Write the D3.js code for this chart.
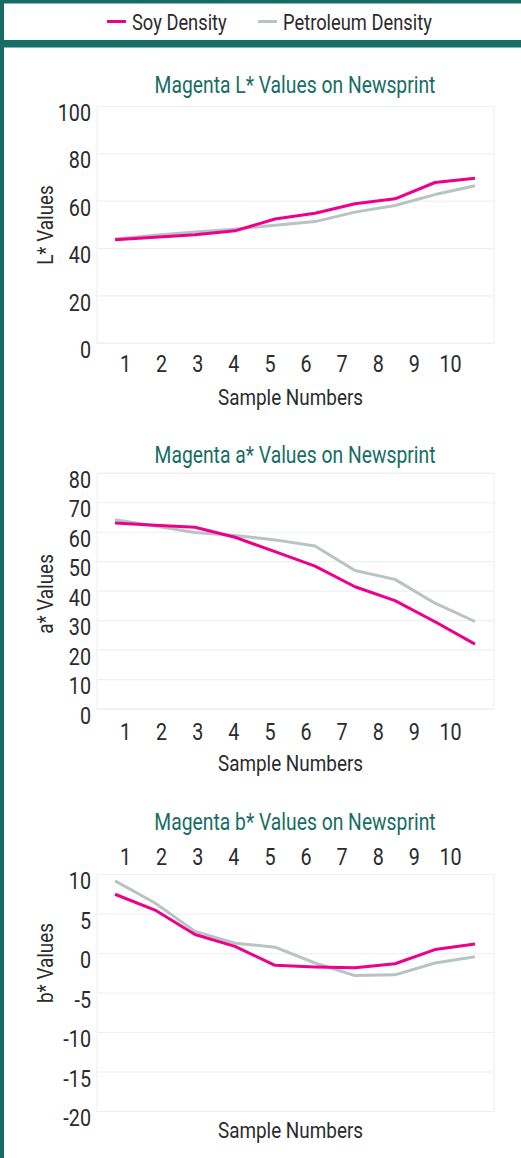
<!DOCTYPE html>
<html>
<head>
<meta charset="utf-8">
<script src="https://cdn.jsdelivr.net/npm/d3@7"></script>
<style>
  html, body { margin: 0; padding: 0; background: #fff; }
  svg { display: block; }
  text { font-family: Roboto, "Noto Sans", sans-serif; }
</style>
</head>
<body>
<svg id="chart" width="521" height="1158"></svg>
<script>
// Sample numbers shared by all three panels
const samples = [1, 2, 3, 4, 5, 6, 7, 8, 9, 10];

// Series names
const seriesNames = ["Soy Density", "Petroleum Density"];

// L* values
const lSoy = [43.7, 44.8, 45.8, 47.5, 52.5, 54.9, 58.9, 61.0, 67.9, 69.7];
const lPetro = [44.0, 45.6, 47.0, 48.2, 49.9, 51.4, 55.4, 58.2, 62.8, 66.5];

// a* values
const aSoy = [63.1, 62.4, 61.7, 58.3, 53.4, 48.5, 41.5, 36.8, 29.6, 22.0];
const aPetro = [64.2, 62.1, 59.9, 58.9, 57.4, 55.3, 47.0, 44.0, 35.9, 29.7];

// b* values
const bSoy = [7.5, 5.5, 2.4, 0.9, -1.5, -1.7, -1.8, -1.3, 0.5, 1.2];
const bPetro = [9.2, 6.4, 2.8, 1.3, 0.8, -1.2, -2.8, -2.7, -1.2, -0.4];

// Axis tick values
const lTicks = [0, 20, 40, 60, 80, 100];
const aTicks = [0, 10, 20, 30, 40, 50, 60, 70, 80];
const bTicks = [-20, -15, -10, -5, 0, 5, 10];

const titles = [
  "Magenta L* Values on Newsprint",
  "Magenta a* Values on Newsprint",
  "Magenta b* Values on Newsprint"
];
const yTitles = ["L* Values", "a* Values", "b* Values"];
const xTitle = "Sample Numbers";

const TEAL = "#176d63";
const SOY = "#ec008c";
const PETRO = "#b8c3c3";
const INK = "#2b2b2b";
const GRID = "#eef0f0";
const SX = 0.84; // horizontal squeeze for a condensed look

const svg = d3.select("#chart");
const W = 521, H = 1158;

// Text placed at (x, y), squeezed horizontally around its anchor
function label(parent, x, y, str, opts) {
  const o = Object.assign({ size: 22, fill: INK, anchor: "middle", rotate: 0 }, opts || {});
  const t = parent.append("text")
    .attr("transform", `translate(${x},${y}) rotate(${o.rotate}) scale(${SX},1)`)
    .attr("dy", "0.35em")
    .attr("text-anchor", o.anchor)
    .attr("font-size", o.size)
    .attr("fill", o.fill)
    .text(str);
  return t;
}

// Frame: top band, legend separator band, left strip
svg.append("rect").attr("x", 0).attr("y", 0).attr("width", W).attr("height", 3.5).attr("fill", TEAL);
svg.append("rect").attr("x", 0).attr("y", 40).attr("width", W).attr("height", 7.5).attr("fill", TEAL);
svg.append("rect").attr("x", 0).attr("y", 0).attr("width", 4).attr("height", H).attr("fill", TEAL);

// Legend
const legend = svg.append("g").attr("class", "legend");
const legendItems = [
  { name: seriesNames[0], color: SOY, x: 107 },
  { name: seriesNames[1], color: PETRO, x: 258 }
];
legendItems.forEach(it => {
  legend.append("line")
    .attr("x1", it.x).attr("x2", it.x + 19)
    .attr("y1", 21.5).attr("y2", 21.5)
    .attr("stroke", it.color).attr("stroke-width", 3);
  label(legend, it.x + 25, 22, it.name, { size: 21.8, anchor: "start" });
});

// Shared horizontal layout
const plotLeft = 97, plotRight = 494;
const x = d3.scaleLinear().domain([1, 10]).range([115, 475]);
const xLabel = d3.scalePoint().domain(samples).range([125, 450]);

const panels = [
  { title: titles[0], yTitle: yTitles[0], soy: lSoy, petro: lPetro, ticks: lTicks,
    domain: [0, 100], top: 106.5, bottom: 343.3, titleY: 85, xLabelY: 364, xTitleY: 397,
    yTitleY: 225, xLabelsOnTop: false },
  { title: titles[1], yTitle: yTitles[1], soy: aSoy, petro: aPetro, ticks: aTicks,
    domain: [0, 80], top: 473.3, bottom: 709, titleY: 455, xLabelY: 731.5, xTitleY: 763.5,
    yTitleY: 594, xLabelsOnTop: false },
  { title: titles[2], yTitle: yTitles[2], soy: bSoy, petro: bPetro, ticks: bTicks,
    domain: [-20, 10], top: 874.5, bottom: 1111.5, titleY: 821.5, xLabelY: 857, xTitleY: 1130,
    yTitleY: 963, xLabelsOnTop: true }
];

panels.forEach(p => {
  const g = svg.append("g");
  const y = d3.scaleLinear().domain(p.domain).range([p.bottom, p.top]);

  // Title
  label(g, 295, p.titleY, p.title, { size: 23, fill: TEAL });

  // Gridlines
  g.append("g").selectAll("line")
    .data(p.ticks)
    .join("line")
    .attr("x1", plotLeft).attr("x2", plotRight)
    .attr("y1", d => y(d)).attr("y2", d => y(d))
    .attr("stroke", GRID).attr("stroke-width", 1.2);

  // Plot frame
  g.append("rect")
    .attr("x", plotLeft).attr("y", p.top)
    .attr("width", plotRight - plotLeft).attr("height", p.bottom - p.top)
    .attr("fill", "none").attr("stroke", GRID).attr("stroke-width", 1.2);

  // Y axis labels
  const yAxis = g.append("g")
    .attr("transform", `translate(${plotLeft - 6},0)`)
    .call(d3.axisLeft(y).tickValues(p.ticks).tickSize(0).tickPadding(0).tickFormat(d => String(d)));
  yAxis.select(".domain").remove();
  yAxis.attr("font-family", null).attr("font-size", null);
  yAxis.selectAll("text")
    .attr("x", 0)
    .attr("dy", "0.6em")
    .attr("transform", `scale(${SX},1)`)
    .attr("font-size", 23.5)
    .attr("fill", INK);

  // X axis labels
  const xAxisGen = p.xLabelsOnTop ? d3.axisTop(xLabel) : d3.axisBottom(xLabel);
  const xAxis = g.append("g")
    .attr("transform", `translate(0,${p.xLabelY})`)
    .call(xAxisGen.tickSize(0).tickPadding(0));
  xAxis.select(".domain").remove();
  xAxis.attr("font-family", null).attr("font-size", null);
  xAxis.selectAll("text")
    .attr("y", 0)
    .attr("dy", "0.35em")
    .attr("transform", `scale(${SX},1)`)
    .attr("font-size", 23.5)
    .attr("fill", INK);

  // Axis titles
  label(g, 290.5, p.xTitleY, xTitle, { size: 22.5 });
  label(g, 45, p.yTitleY, p.yTitle, { size: 22.5, rotate: -90 });

  // Series lines
  const line = d3.line()
    .x((d, i) => x(samples[i]))
    .y(d => y(d));

  g.append("path")
    .datum(p.petro)
    .attr("d", line)
    .attr("fill", "none")
    .attr("stroke", PETRO)
    .attr("stroke-width", 3)
    .attr("stroke-linejoin", "round");

  g.append("path")
    .datum(p.soy)
    .attr("d", line)
    .attr("fill", "none")
    .attr("stroke", SOY)
    .attr("stroke-width", 3)
    .attr("stroke-linejoin", "round");
});
</script>
</body>
</html>
